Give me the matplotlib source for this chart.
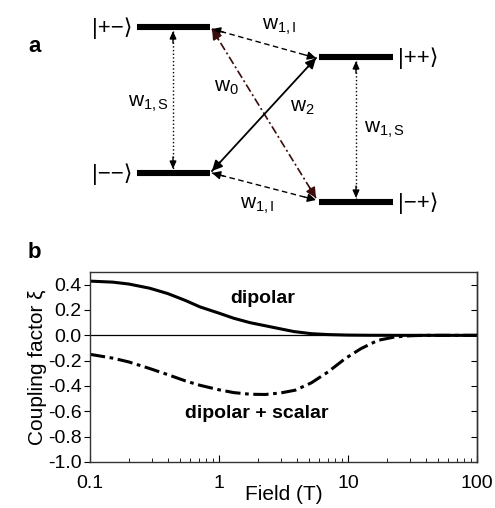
import matplotlib
matplotlib.use('Agg')
import matplotlib.pyplot as plt

plt.rcParams['font.family'] = ['Liberation Sans', 'DejaVu Sans']
plt.rcParams['mathtext.fontset'] = 'custom'
plt.rcParams['mathtext.rm'] = 'Liberation Sans'
plt.rcParams['mathtext.it'] = 'Liberation Sans:italic'
plt.rcParams['mathtext.bf'] = 'Liberation Sans:bold'

# panel a: energy levels (x start, x end, y) in pixel units of the figure
level_names = ['|+\u2212\u27e9', '|\u2212\u2212\u27e9', '|++\u27e9', '|\u2212+\u27e9']
level_x0 = [137, 137, 319, 319]
level_x1 = [210, 210, 393, 393]
level_y = [27, 173, 57, 202]

# panel b: coupling factor vs field
field_dip = [0.1, 0.15, 0.2, 0.29, 0.4, 0.55, 0.71, 1.0, 1.3, 1.74, 2.3, 2.87, 3.8, 5.2, 7.0, 10, 15, 25, 40, 100]
xi_dip = [0.428, 0.42, 0.405, 0.372, 0.33, 0.275, 0.225, 0.175, 0.135, 0.1, 0.075, 0.055, 0.03, 0.013, 0.006, 0.002, 0.0005, 0.0, 0.0, 0.0]
field_scal = [0.1, 0.15, 0.2, 0.29, 0.4, 0.55, 0.71, 1.0, 1.3, 1.74, 2.28, 3.0, 3.9, 5.2, 7.0, 9.5, 12.6, 17, 23, 31, 40, 100]
xi_scal = [-0.15, -0.18, -0.21, -0.262, -0.31, -0.36, -0.394, -0.43, -0.452, -0.465, -0.467, -0.455, -0.433, -0.375, -0.289, -0.184, -0.105, -0.04, -0.013, -0.003, 0.0, 0.0]

fig = plt.figure(figsize=(4.95, 5.08), dpi=100)
ax_a = fig.add_axes([0, 0, 1, 1])
ax_a.set_xlim(0, 495)
ax_a.set_ylim(508, 0)
ax_a.axis('off')

for name, x0, x1, y in zip(level_names, level_x0, level_x1, level_y):
    ax_a.plot([x0, x1], [y, y], color='black', lw=4.4, solid_capstyle='butt')
    if x0 < 250:
        ax_a.text(x0 - 5, y + 1, name, ha='right', va='center', fontsize=16)
    else:
        ax_a.text(x1 + 5, y + 1, name, ha='left', va='center', fontsize=16)


def double_arrow(p0, p1, ls, color='black', lw=1.0, hw=0.25, hl=0.5):
    ax_a.plot([p0[0], p1[0]], [p0[1], p1[1]], ls=ls, color=color, lw=lw)
    style = '-|>,head_width=%g,head_length=%g' % (hw, hl)
    dx, dy = p1[0] - p0[0], p1[1] - p0[1]
    d = (dx * dx + dy * dy) ** 0.5
    ux, uy = dx / d, dy / d
    for tip, s in [(p1, 1), (p0, -1)]:
        ax_a.annotate('', xy=tip, xytext=(tip[0] - s * ux * 12, tip[1] - s * uy * 12),
                      arrowprops=dict(arrowstyle=style, color=color, lw=lw,
                                      shrinkA=0, shrinkB=0))


double_arrow((173, 31), (173, 169), ':', hw=0.2, hl=0.45)
double_arrow((356, 61), (356, 198), ':', hw=0.2, hl=0.45)
double_arrow((212, 29), (316, 58), (0, (4, 2.5)), hw=0.25, hl=0.5)
double_arrow((212, 173), (316, 200), (0, (4, 2.5)), hw=0.25, hl=0.5)
double_arrow((212, 29), (316, 198), (0, (5, 1.8, 1.2, 1.8)), color='#3c0c0c', lw=1.2, hw=0.3, hl=0.6)
double_arrow((212, 171), (316, 58), '-', lw=1.3, hw=0.3, hl=0.6)

ax_a.text(262, 27, r'$\mathregular{w_{1,I}}$', fontsize=15, va='center')
ax_a.text(240, 206, r'$\mathregular{w_{1,I}}$', fontsize=15, va='center')
ax_a.text(214, 88, r'$\mathregular{w_0}$', fontsize=15, va='center')
ax_a.text(290, 108, r'$\mathregular{w_2}$', fontsize=15, va='center')
ax_a.text(128, 104, r'$\mathregular{w_{1,S}}$', fontsize=15, va='center')
ax_a.text(364, 130, r'$\mathregular{w_{1,S}}$', fontsize=15, va='center')

ax_a.text(28, 47, 'a', fontsize=16, fontweight='bold', va='center')
ax_a.text(28, 252, 'b', fontsize=16, fontweight='bold', va='center')

# panel b
ax_b = fig.add_axes([90 / 495, 46 / 508, 387 / 495, 190 / 508])
ax_b.plot(field_dip, xi_dip, color='black', lw=2.2)
ax_b.plot(field_scal, xi_scal, color='black', lw=2.2, ls=(0, (5, 1.5, 1.2, 1.5)))
ax_b.axhline(0, color='black', lw=0.9)
ax_b.set_xscale('log')
ax_b.set_xlim(0.1, 100)
ax_b.set_ylim(-1.0, 0.5)
yticks = [0.4, 0.2, 0.0, -0.2, -0.4, -0.6, -0.8, -1.0]
ax_b.set_yticks(yticks)
ax_b.set_yticklabels(['0.4', '0.2', '0.0', '-0.2', '-0.4', '-0.6', '-0.8', '-1.0'])
ax_b.set_xticks([0.1, 1, 10, 100])
ax_b.set_xticklabels(['0.1', '1', '10', '100'])
ax_b.tick_params(axis='x', which='both', direction='in', labelsize=14, pad=9)
ax_b.tick_params(axis='x', which='major', length=5)
ax_b.tick_params(axis='x', which='minor', length=3)
ax_b.tick_params(axis='y', which='both', direction='out', labelsize=14, length=4, pad=2)
sec = ax_b.secondary_yaxis('right')
sec.set_yticks(yticks)
sec.tick_params(direction='in', length=4, labelright=False)
for axis in (ax_b, sec):
    for sp in axis.spines.values():
        sp.set_color('#333333')
        sp.set_linewidth(1.0)
ax_b.set_xlabel('Field (T)', fontsize=15, labelpad=-5)
ax_b.set_ylabel('Coupling factor \u03be', fontsize=15, labelpad=1)
ax_b.text(2.2, 0.29, 'dipolar', fontsize=14, fontweight='bold', ha='center', va='center')
ax_b.text(1.95, -0.62, 'dipolar + scalar', fontsize=14, fontweight='bold', ha='center', va='center')

fig.savefig('out.png', dpi=100)
